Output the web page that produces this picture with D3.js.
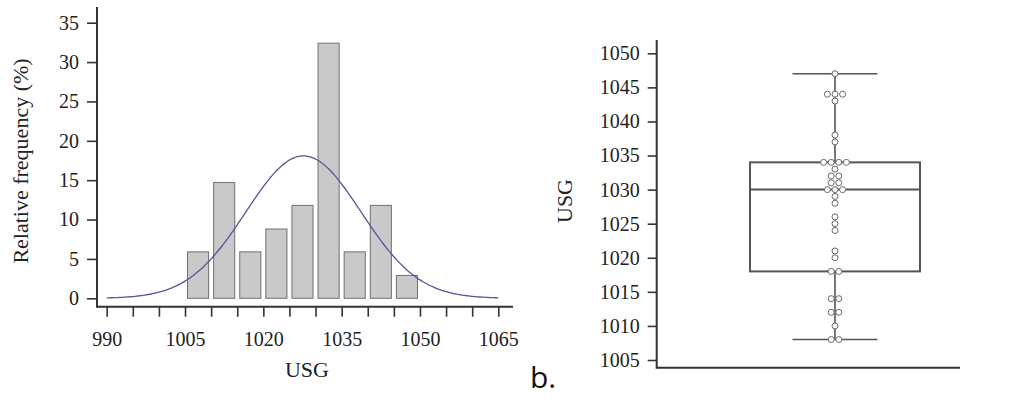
<!DOCTYPE html>
<html>
<head>
<meta charset="utf-8">
<script src="https://cdn.jsdelivr.net/npm/d3@7"></script>
<style>
  body { margin: 0; background: #fff; }
  svg { display: block; }
  text { font-family: "Liberation Serif", serif; fill: #222; }
</style>
</head>
<body>
<svg id="chart" width="1014" height="401"></svg>
<script>
// histogram bins (USG, width 5) and relative frequency (%)
var binStarts = [1005, 1010, 1015, 1020, 1025, 1030, 1035, 1040, 1045];
var binFreq = [5.9, 14.7, 5.9, 8.8, 11.8, 32.4, 5.9, 11.8, 2.9];
var histTicks = [990, 1005, 1020, 1035, 1050, 1065];
var freqTicks = [0, 5, 10, 15, 20, 25, 30, 35];

// individual USG observations (right panel)
var usgValues = [1047, 1044, 1044, 1044, 1043, 1038, 1037, 1034, 1034, 1034, 1034,
  1033, 1032, 1032, 1031, 1031, 1030, 1030, 1030, 1029, 1028, 1026, 1025, 1024,
  1021, 1020, 1018, 1018, 1014, 1014, 1012, 1012, 1010, 1008, 1008];
var boxStats = { low: 1008, q1: 1018, median: 1030, q3: 1034, high: 1047 };
var usgTicks = [1005, 1010, 1015, 1020, 1025, 1030, 1035, 1040, 1045, 1050];

var svg = d3.select("#chart");
var axisColor = "#333";
var tickFont = "20px", titleFont = "22px";

// ---------- left: histogram ----------
var x = d3.scaleLinear().domain([990, 1065]).range([106.7, 498.3]);
var y = d3.scaleLinear().domain([0, 35]).range([298.3, 22.7]);
var binW = 5;

var left = svg.append("g");

left.selectAll("rect.bar")
  .data(binStarts)
  .enter().append("rect")
  .attr("class", "bar")
  .attr("x", function (d) { return x(d) + 2.5; })
  .attr("width", function (d) { return x(d + binW) - x(d) - 5; })
  .attr("y", function (d, i) { return y(binFreq[i]); })
  .attr("height", function (d, i) { return y(0) - y(binFreq[i]); })
  .style("fill", "#c9c9c9")
  .style("stroke", "#707070")
  .style("stroke-width", 1);

// fitted normal curve, scaled to percent per bin
var mu = d3.mean(usgValues), sd = d3.deviation(usgValues);
var curveX = d3.range(990, 1065.01, 0.5);
var line = d3.line()
  .x(function (d) { return x(d); })
  .y(function (d) {
    var z = (d - mu) / sd;
    return y(100 * binW * Math.exp(-0.5 * z * z) / (sd * Math.sqrt(2 * Math.PI)));
  })
  .curve(d3.curveBasis);
left.append("path")
  .datum(curveX)
  .attr("d", line)
  .style("fill", "none")
  .style("stroke", "#55559a")
  .style("stroke-width", 1.3);

// axes
var xAxisY = 306.7, yAxisX = 97;
left.append("line").attr("x1", yAxisX).attr("x2", yAxisX).attr("y1", 7).attr("y2", xAxisY + 1)
  .style("stroke", axisColor).style("stroke-width", 2);
left.append("line").attr("x1", yAxisX).attr("x2", 513).attr("y1", xAxisY).attr("y2", xAxisY)
  .style("stroke", axisColor).style("stroke-width", 2);

var xAx = d3.axisBottom(x).tickValues(d3.range(990, 1066, 5)).tickSize(10)
  .tickFormat(function (d) { return histTicks.indexOf(d) >= 0 ? d : ""; });
left.append("g").attr("transform", "translate(0," + xAxisY + ")").call(xAx)
  .call(function (g) {
    g.select(".domain").remove();
    g.selectAll("line").style("stroke", axisColor).style("stroke-width", 1.6);
    g.selectAll("text").attr("dy", "0").attr("y", 39)
      .style("font-family", "'Liberation Serif', serif").style("font-size", tickFont).style("fill", "#222");
  });

var yAx = d3.axisLeft(y).tickValues(freqTicks).tickSize(10).tickPadding(8);
left.append("g").attr("transform", "translate(" + yAxisX + ",0)").call(yAx)
  .call(function (g) {
    g.select(".domain").remove();
    g.selectAll("line").style("stroke", axisColor).style("stroke-width", 1.6);
    g.selectAll("text")
      .style("font-family", "'Liberation Serif', serif").style("font-size", tickFont).style("fill", "#222");
  });

left.append("text").attr("x", 307).attr("y", 377).attr("text-anchor", "middle")
  .style("font-size", titleFont).text("USG");
left.append("text").attr("transform", "translate(28,161) rotate(-90)").attr("text-anchor", "middle")
  .style("font-size", titleFont).text("Relative frequency (%)");

// ---------- right: box plot with dots ----------
var y2 = d3.scaleLinear().domain([1005, 1050]).range([360, 53.3]);
var right = svg.append("g");
var ax2X = 656.7, base2Y = 367.7;
var cx = 835, boxHalf = 85, capHalf = 42.5, dotR = 3, dotGap = 7.6;

right.append("line").attr("x1", ax2X).attr("x2", ax2X).attr("y1", 40).attr("y2", base2Y + 1)
  .style("stroke", axisColor).style("stroke-width", 2);
right.append("line").attr("x1", ax2X).attr("x2", 960).attr("y1", base2Y).attr("y2", base2Y)
  .style("stroke", axisColor).style("stroke-width", 2);

var yAx2 = d3.axisLeft(y2).tickValues(usgTicks).tickSize(9).tickPadding(8).tickFormat(d3.format("d"));
right.append("g").attr("transform", "translate(" + ax2X + ",0)").call(yAx2)
  .call(function (g) {
    g.select(".domain").remove();
    g.selectAll("line").style("stroke", axisColor).style("stroke-width", 1.6);
    g.selectAll("text")
      .style("font-family", "'Liberation Serif', serif").style("font-size", tickFont).style("fill", "#222");
  });

right.append("text").attr("transform", "translate(572,201) rotate(-90)").attr("text-anchor", "middle")
  .style("font-size", titleFont).text("USG");

var boxColor = "#555";
// whiskers
right.append("line").attr("x1", cx).attr("x2", cx).attr("y1", y2(boxStats.high)).attr("y2", y2(boxStats.q3))
  .style("stroke", boxColor).style("stroke-width", 1.6);
right.append("line").attr("x1", cx).attr("x2", cx).attr("y1", y2(boxStats.q1)).attr("y2", y2(boxStats.low))
  .style("stroke", boxColor).style("stroke-width", 1.6);
[boxStats.high, boxStats.low].forEach(function (v) {
  right.append("line").attr("x1", cx - capHalf).attr("x2", cx + capHalf).attr("y1", y2(v)).attr("y2", y2(v))
    .style("stroke", boxColor).style("stroke-width", 1.6);
});
// box
right.append("rect").attr("x", cx - boxHalf).attr("width", boxHalf * 2)
  .attr("y", y2(boxStats.q3)).attr("height", y2(boxStats.q1) - y2(boxStats.q3))
  .style("fill", "none").style("stroke", boxColor).style("stroke-width", 2);
right.append("line").attr("x1", cx - boxHalf).attr("x2", cx + boxHalf)
  .attr("y1", y2(boxStats.median)).attr("y2", y2(boxStats.median))
  .style("stroke", boxColor).style("stroke-width", 2);

// dots, spread side by side for equal values
var groups = d3.group(usgValues, function (d) { return d; });
var dots = [];
groups.forEach(function (arr, v) {
  arr.forEach(function (d, i) {
    dots.push({ v: v, off: (i - (arr.length - 1) / 2) * dotGap });
  });
});
right.selectAll("circle.dot")
  .data(dots)
  .enter().append("circle")
  .attr("class", "dot")
  .attr("cx", function (d) { return cx + d.off; })
  .attr("cy", function (d) { return y2(d.v); })
  .attr("r", dotR)
  .style("fill", "#fff")
  .style("stroke", "#6a6a6a")
  .style("stroke-width", 1);

svg.append("text").attr("x", 530).attr("y", 388)
  .style("font-family", "'Open Sans', sans-serif").style("font-size", "30px").style("fill", "#111")
  .text("b.");
</script>
</body>
</html>
